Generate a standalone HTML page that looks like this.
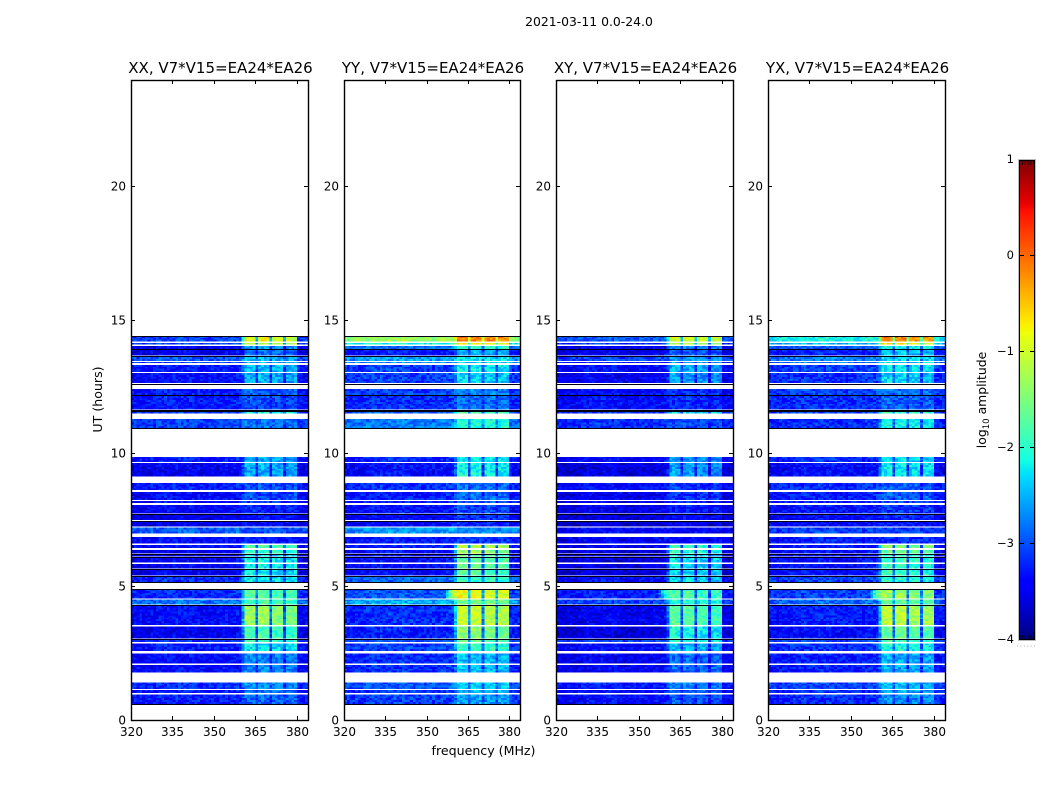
<!DOCTYPE html>
<html>
<head>
<meta charset="utf-8">
<title>2021-03-11 spectrogram</title>
<style>
html,body{margin:0;padding:0;background:#fff;}
svg{display:block;font-family:"DejaVu Sans","Liberation Sans",sans-serif;}
</style>
</head>
<body>
<svg id="chart" xmlns="http://www.w3.org/2000/svg" width="1050" height="800" viewBox="0 0 1050 800">
<rect x="0" y="0" width="1050" height="800" fill="#fff"/>
<text x="589" y="26" font-size="12.4" text-anchor="middle">2021-03-11 0.0-24.0</text>
<text transform="translate(102,399.5) rotate(-90)" font-size="12.6" text-anchor="middle">UT (hours)</text>
<text x="483.5" y="755" font-size="12.6" text-anchor="middle">frequency (MHz)</text>
<text transform="translate(986,400) rotate(-90)" font-size="12.4" text-anchor="middle">log<tspan font-size="8.6" dy="3">10</tspan><tspan dy="-3"> amplitude</tspan></text>
<g id="panels"></g>
<g id="colorbar"></g>
</svg>
<script>
// Panel titles and tick labels
const panelNames = ['XX', 'YY', 'XY', 'YX'];
const panelSuffix = ', V7*V15=EA24*EA26';
const freqTicks = [320, 335, 350, 365, 380];
const timeTicks = [0, 5, 10, 15, 20];
const cbarTicks = [1, 0, -1, -2, -3, -4];
const cbarMinorTicks = [0, 1, 2, 3, 4];

// Integration blocks along the time axis (hours)
const rowStart = [0.60,1.01,1.16,1.78,2.12,2.59,2.93,3.06,3.56,4.33,
                  4.56,5.18,5.42,5.68,5.91,6.13,6.24,6.45,6.62,6.99,
                  7.26,7.50,7.74,8.14,8.25,8.62,9.13,9.68,10.95,11.49,
                  11.64,12.19,12.64,13.05,13.39,13.46,13.67,13.91,14.08,14.19];
const rowEnd   = [0.96,1.13,1.41,2.06,2.49,2.87,3.04,3.51,4.29,4.52,
                  4.91,5.38,5.63,5.85,6.08,6.19,6.38,6.56,6.86,7.22,
                  7.46,7.71,8.06,8.21,8.55,8.89,9.64,9.86,11.29,11.59,
                  12.15,12.41,13.01,13.31,13.43,13.61,13.88,14.03,14.14,14.40];

// Off-band level of each block, log10 amplitude
const bgXX = [-3.35,-3.35,-3.25,-3.45,-3.45,-3.35,-3.25,-3.55,-3.45,-2.9,
              -3.25,-3.25,-3.55,-3.55,-3.55,-3.55,-3.55,-3.45,-3.45,-3.0,
              -3.6,-3.6,-3.5,-3.45,-3.45,-3.35,-3.55,-3.35,-3.15,-3.15,
              -3.35,-3.35,-3.45,-3.35,-3.15,-3.05,-3.55,-3.55,-3.15,-3.15];
const bgYY = [-3.15,-3.15,-3.05,-3.25,-3.25,-3.15,-3.05,-3.35,-3.25,-2.6,
              -3.05,-2.95,-3.45,-3.45,-3.45,-3.45,-3.45,-3.35,-3.35,-2.7,
              -3.5,-3.5,-3.4,-3.35,-3.35,-3.25,-3.45,-3.25,-2.85,-2.95,
              -3.25,-3.15,-3.15,-3.15,-2.75,-2.65,-3.35,-2.95,-2.2,-1.4];
const bgXY = [-3.45,-3.45,-3.35,-3.55,-3.55,-3.45,-3.15,-3.65,-3.55,-3.15,
              -3.35,-3.45,-3.65,-3.65,-3.65,-3.65,-3.65,-3.55,-3.55,-3.45,
              -3.7,-3.7,-3.6,-3.55,-3.55,-3.45,-3.65,-3.45,-3.25,-3.25,
              -3.45,-3.45,-3.55,-3.45,-3.35,-3.15,-3.55,-3.55,-3.25,-3.05];
const bgYX = [-3.25,-3.25,-3.15,-3.35,-3.35,-3.25,-3.15,-3.45,-3.35,-2.95,
              -3.15,-3.15,-3.45,-3.45,-3.45,-3.45,-3.45,-3.35,-3.35,-3.15,
              -3.5,-3.5,-3.4,-3.35,-3.35,-3.25,-3.45,-3.25,-3.25,-3.15,
              -3.25,-3.15,-3.25,-3.15,-2.85,-2.85,-3.35,-3.05,-2.55,-2.2];

// In-band (361-380 MHz) level of each block, log10 amplitude
const peakXX = [-2.85,-2.75,-2.65,-2.7,-2.7,-2.2,-1.9,-1.8,-1.3,-1.8,
                -1.7,-2.2,-2.2,-2.2,-2.1,-2.2,-1.9,-1.7,-3.3,-3.0,
                -3.4,-3.3,-3.2,-3.1,-3.0,-3.0,-2.5,-2.5,-2.8,-2.1,
                -3.0,-2.9,-2.5,-2.4,-2.5,-2.5,-2.8,-2.6,-1.1,-0.8];
const peakYY = [-2.55,-2.45,-2.35,-2.4,-2.4,-1.9,-1.6,-1.4,-1.0,-1.5,
                -0.8,-1.9,-1.7,-1.6,-1.6,-1.7,-1.3,-1.1,-3.1,-2.7,
                -3.2,-3.1,-3.0,-2.9,-2.8,-2.8,-2.1,-2.2,-2.0,-1.8,
                -2.8,-2.7,-2.3,-2.2,-2.3,-2.2,-2.5,-1.9,-0.7,-0.1];
const peakXY = [-2.95,-2.85,-2.75,-2.85,-2.85,-2.45,-2.1,-2.1,-1.7,-2.0,
                -1.8,-2.3,-2.3,-2.3,-2.2,-2.3,-2.0,-1.9,-3.4,-3.4,
                -3.5,-3.4,-3.3,-3.2,-3.1,-3.1,-2.6,-2.6,-3.0,-2.3,
                -3.2,-3.1,-2.6,-2.5,-2.6,-2.6,-2.9,-2.7,-1.2,-0.9];
const peakYX = [-2.65,-2.55,-2.45,-2.5,-2.5,-2.05,-1.8,-1.6,-1.1,-1.6,
                -1.3,-2.0,-1.9,-1.9,-1.8,-1.9,-1.6,-1.4,-3.2,-3.1,
                -3.3,-3.2,-3.1,-3.0,-2.9,-2.9,-2.2,-2.3,-2.1,-1.9,
                -2.9,-2.8,-2.3,-2.2,-2.3,-2.3,-2.4,-2.1,-0.7,-0.1];

// Per-channel shape across 320-383 MHz: in-band weight and off-band ripple
const bandWeight = [0,0,0,0,0,0,0,0,0,0,0,0,0,0,0,0,0,0,0,0,
                    0,0,0,0,0,0,0,0,0,0,0,0,0,0,0,0,0,0,0,0,
                    0.35,1,1,1,1,0.25,1,1,1,1,0.22,0.92,0.92,0.92,0.92,0.22,
                    0.9,0.9,0.9,0.9,0,0,0,0];
const bgRipple = [0,0,0,0,0.02,0.02,0.03,0.05,0.05,0.08,0.1,0.1,0.1,0.12,0.1,0.1,0.12,0.12,0.1,0.1,
                  0.1,0.12,0.1,0.08,0.08,0.06,0.05,0.05,0.05,0.05,0.05,0.06,0.06,0.08,0.08,0.1,0.1,0.12,0.12,0.15,
                  0.15,0.15,0.15,0.15,0.15,0.15,0.1,0.1,0.1,0.1,0.1,0.1,0.05,0.05,0.05,0.05,
                  0.05,0.05,0.05,0.05,0.02,0,0,0];
// Band-edge leakage seen left of the band during the 4.56-4.91 h block (not in XX)
const leakRow = 10;
const leakWeight = [0,0,0,0,0,0,0,0,0,0,0,0,0,0,0,0,0,0,0,0,
                    0,0,0,0,0,0,0,0,0,0,0,0,0,0,0,0,0,0.25,0.55,0.8,
                    0.9,0,0,0,0,0,0,0,0,0,0,0,0,0,0,0,
                    0,0,0,0,0,0,0,0];

// Hand-typed dither pattern standing in for the receiver noise texture
const speckle = [0.16,-0.23,0.06,-0.09,0.25,-0.2,0.02,0.13,-0.28,0.09,
                 -0.04,0.21,-0.15,-0.25,0.11,0.28,-0.1,0.05,-0.2,0.18,
                 -0.07,0.23,-0.27,0.01,0.14,-0.13,0.08,-0.22,0.2,-0.02,-0.16];

// Flagged, near-zero integrations, drawn almost black (hours)
const darkLines = [0.60,3.05,4.31,4.92,5.18,5.41,5.66,6.10,6.21,7.48,7.74,
                   10.95,11.60,11.63,12.17,12.61,13.65,13.90,14.40];

const FREQ_MIN = 320, FREQ_MAX = 384, TIME_MIN = 0, TIME_MAX = 24;
const PANEL_LEFT = [131, 344, 556, 768];
const PANEL_WIDTH = [177, 176, 177, 177];
const PANEL_TOP = 80, PANEL_BOTTOM = 720;
const CB_LEFT = 1019, CB_RIGHT = 1035, CB_TOP = 160, CB_BOTTOM = 640, V_MIN = -4, V_MAX = 1;
const NS = 'http://www.w3.org/2000/svg';
const bgSets = [bgXX, bgYY, bgXY, bgYX];
const peakSets = [peakXX, peakYY, peakXY, peakYX];

function xScale(panel, f) {
  return PANEL_LEFT[panel] + (f - FREQ_MIN) / (FREQ_MAX - FREQ_MIN) * PANEL_WIDTH[panel];
}
function yScale(t) {
  return PANEL_BOTTOM - (t - TIME_MIN) / (TIME_MAX - TIME_MIN) * (PANEL_BOTTOM - PANEL_TOP);
}
function cbScale(v) {
  return CB_BOTTOM - (v - V_MIN) / (V_MAX - V_MIN) * (CB_BOTTOM - CB_TOP);
}
function clamp01(a) { return Math.max(0, Math.min(1, a)); }
function jet(v) {
  const t = clamp01((v - V_MIN) / (V_MAX - V_MIN));
  const r = t < 0.35 ? 0 : t < 0.66 ? (t - 0.35) / 0.31 : t < 0.89 ? 1 : 1 - (t - 0.89) / 0.11 * 0.5;
  const g = t < 0.125 ? 0 : t < 0.375 ? (t - 0.125) / 0.25 : t < 0.64 ? 1 : t < 0.91 ? 1 - (t - 0.64) / 0.27 : 0;
  const b = t < 0.11 ? 0.5 + t / 0.11 * 0.5 : t < 0.34 ? 1 : t < 0.65 ? 1 - (t - 0.34) / 0.31 : 0;
  return 'rgb(' + Math.round(r * 255) + ',' + Math.round(g * 255) + ',' + Math.round(b * 255) + ')';
}
function shape(tag, parent, attrs) {
  const el = document.createElementNS(NS, tag);
  for (const k in attrs) el.setAttribute(k, attrs[k]);
  parent.appendChild(el);
  return el;
}
function minusLabel(v) { return v < 0 ? '\u2212' + Math.abs(v) : String(v); }

const panelsRoot = document.getElementById('panels');
panelNames.forEach(function (name, p) {
  const left = PANEL_LEFT[p], right = left + PANEL_WIDTH[p];
  const g = shape('g', panelsRoot, {});
  
  

  const cells = shape('g', g, {'shape-rendering': 'crispEdges'});
  
  
  let sliceCount = 0;
  rowStart.forEach(function (t0, r) {
    const t1 = rowEnd[r];
    const slices = Math.max(1, Math.round((t1 - t0) / 0.07));
    for (let s = 0; s < slices; s++) {
      sliceCount++;
      const ta = t0 + (t1 - t0) * s / slices;
      const tb = t0 + (t1 - t0) * (s + 1) / slices;
      for (let c = 0; c < bandWeight.length; c++) {
        const base = bgSets[p][r] + bgRipple[c];
        const leak = (r === leakRow && p > 0) ? leakWeight[c] : 0;
        const weight = Math.max(bandWeight[c], leak);
        const level = base + weight * (peakSets[p][r] - base);
        const idx = (c * c + 3 * c * sliceCount + 2 * sliceCount * sliceCount + p * 7) % speckle.length;
        const value = level + speckle[idx];
        const x0 = xScale(p, FREQ_MIN + c), x1 = xScale(p, FREQ_MIN + c + 1);
        const cell = shape('rect', cells, {x: x0, y: yScale(tb), width: x1 - x0, height: yScale(ta) - yScale(tb), fill: jet(value)});
        
        
      }
    }
  });
  darkLines.forEach(function (t) {
    const line = shape('rect', cells, {x: left, y: Math.round(yScale(t)), width: PANEL_WIDTH[p], height: 1, fill: '#000010'});
    
    
  });

  const frame = shape('rect', g, {x: left + 0.5, y: PANEL_TOP + 0.5, width: PANEL_WIDTH[p], height: PANEL_BOTTOM - PANEL_TOP, fill: 'none', stroke: '#000', 'stroke-width': 1.4});
  
  

  freqTicks.forEach(function (f) {
    const x = Math.round(xScale(p, f)) + 0.5;
    const tb = shape('line', g, {x1: x, x2: x, y1: PANEL_BOTTOM, y2: PANEL_BOTTOM - 4, stroke: '#000'});
    
    
    const tt = shape('line', g, {x1: x, x2: x, y1: PANEL_TOP, y2: PANEL_TOP + 4, stroke: '#000'});
    
    
    const lab = shape('text', g, {x: x, y: 736, 'font-size': 12, 'text-anchor': 'middle'});
    lab.textContent = f;
    
    
  });
  timeTicks.forEach(function (t) {
    const y = Math.floor(yScale(t)) + 0.5;
    const tl = shape('line', g, {x1: left, x2: left + 4, y1: y, y2: y, stroke: '#000'});
    
    
    const tr = shape('line', g, {x1: right, x2: right - 4, y1: y, y2: y, stroke: '#000'});
    
    
    const lab = shape('text', g, {x: left - 5, y: y + 4, 'font-size': 12, 'text-anchor': 'end'});
    lab.textContent = t;
    
    
  });
  const title = shape('text', g, {x: (left + right) / 2 + 1, y: 73, 'font-size': 15, 'text-anchor': 'middle'});
  title.textContent = name + panelSuffix;
  
  
});

// Colorbar
const cb = document.getElementById('colorbar');
const cbCells = shape('g', cb, {'shape-rendering': 'crispEdges'});


for (let i = 0; i < 240; i++) {
  const v0 = V_MIN + (V_MAX - V_MIN) * i / 240;
  const v1 = V_MIN + (V_MAX - V_MIN) * (i + 1) / 240;
  const seg = shape('rect', cbCells, {x: CB_LEFT, y: cbScale(v1), width: CB_RIGHT - CB_LEFT, height: cbScale(v0) - cbScale(v1), fill: jet((v0 + v1) / 2)});
  
  
}
const cbOuter = shape('rect', cb, {x: CB_LEFT - 0.5, y: CB_TOP - 0.5, width: CB_RIGHT - CB_LEFT + 1, height: CB_BOTTOM - CB_TOP + 1, fill: 'none', stroke: '#bbb'});


const cbFrame = shape('rect', cb, {x: CB_LEFT + 0.5, y: CB_TOP + 0.5, width: CB_RIGHT - CB_LEFT - 1, height: CB_BOTTOM - CB_TOP - 1, fill: 'none', stroke: '#000'});


cbarTicks.forEach(function (v) {
  const y = Math.round(cbScale(v)) - 0.5;
  if (v > V_MIN && v < V_MAX) {
    const a = shape('line', cb, {x1: CB_LEFT, x2: CB_LEFT + 5, y1: y, y2: y, stroke: '#000'});
    
    
    const b = shape('line', cb, {x1: CB_RIGHT, x2: CB_RIGHT - 5, y1: y, y2: y, stroke: '#000'});
    
    
  }
  const lab = shape('text', cb, {x: 1014, y: Math.round(cbScale(v)) + 3, 'font-size': 11.5, 'text-anchor': 'end'});
  lab.textContent = minusLabel(v);
  
  
});
cbarMinorTicks.forEach(function (i) {
  const x = CB_LEFT + 3.5 + i * 2.8;
  const top = shape('line', cb, {x1: x, x2: x, y1: CB_TOP, y2: CB_TOP + 5, stroke: '#000', 'stroke-width': 0.8});
  
  
  const bottom = shape('line', cb, {x1: x, x2: x, y1: CB_BOTTOM, y2: CB_BOTTOM - 5, stroke: '#000', 'stroke-width': 0.8});
  
  
});
const cbDots = shape('line', cb, {x1: 1017, x2: 1035, y1: 646, y2: 646, stroke: '#aaa', 'stroke-width': 1, 'stroke-dasharray': '1 2.4'});


</script>
</body>
</html>
